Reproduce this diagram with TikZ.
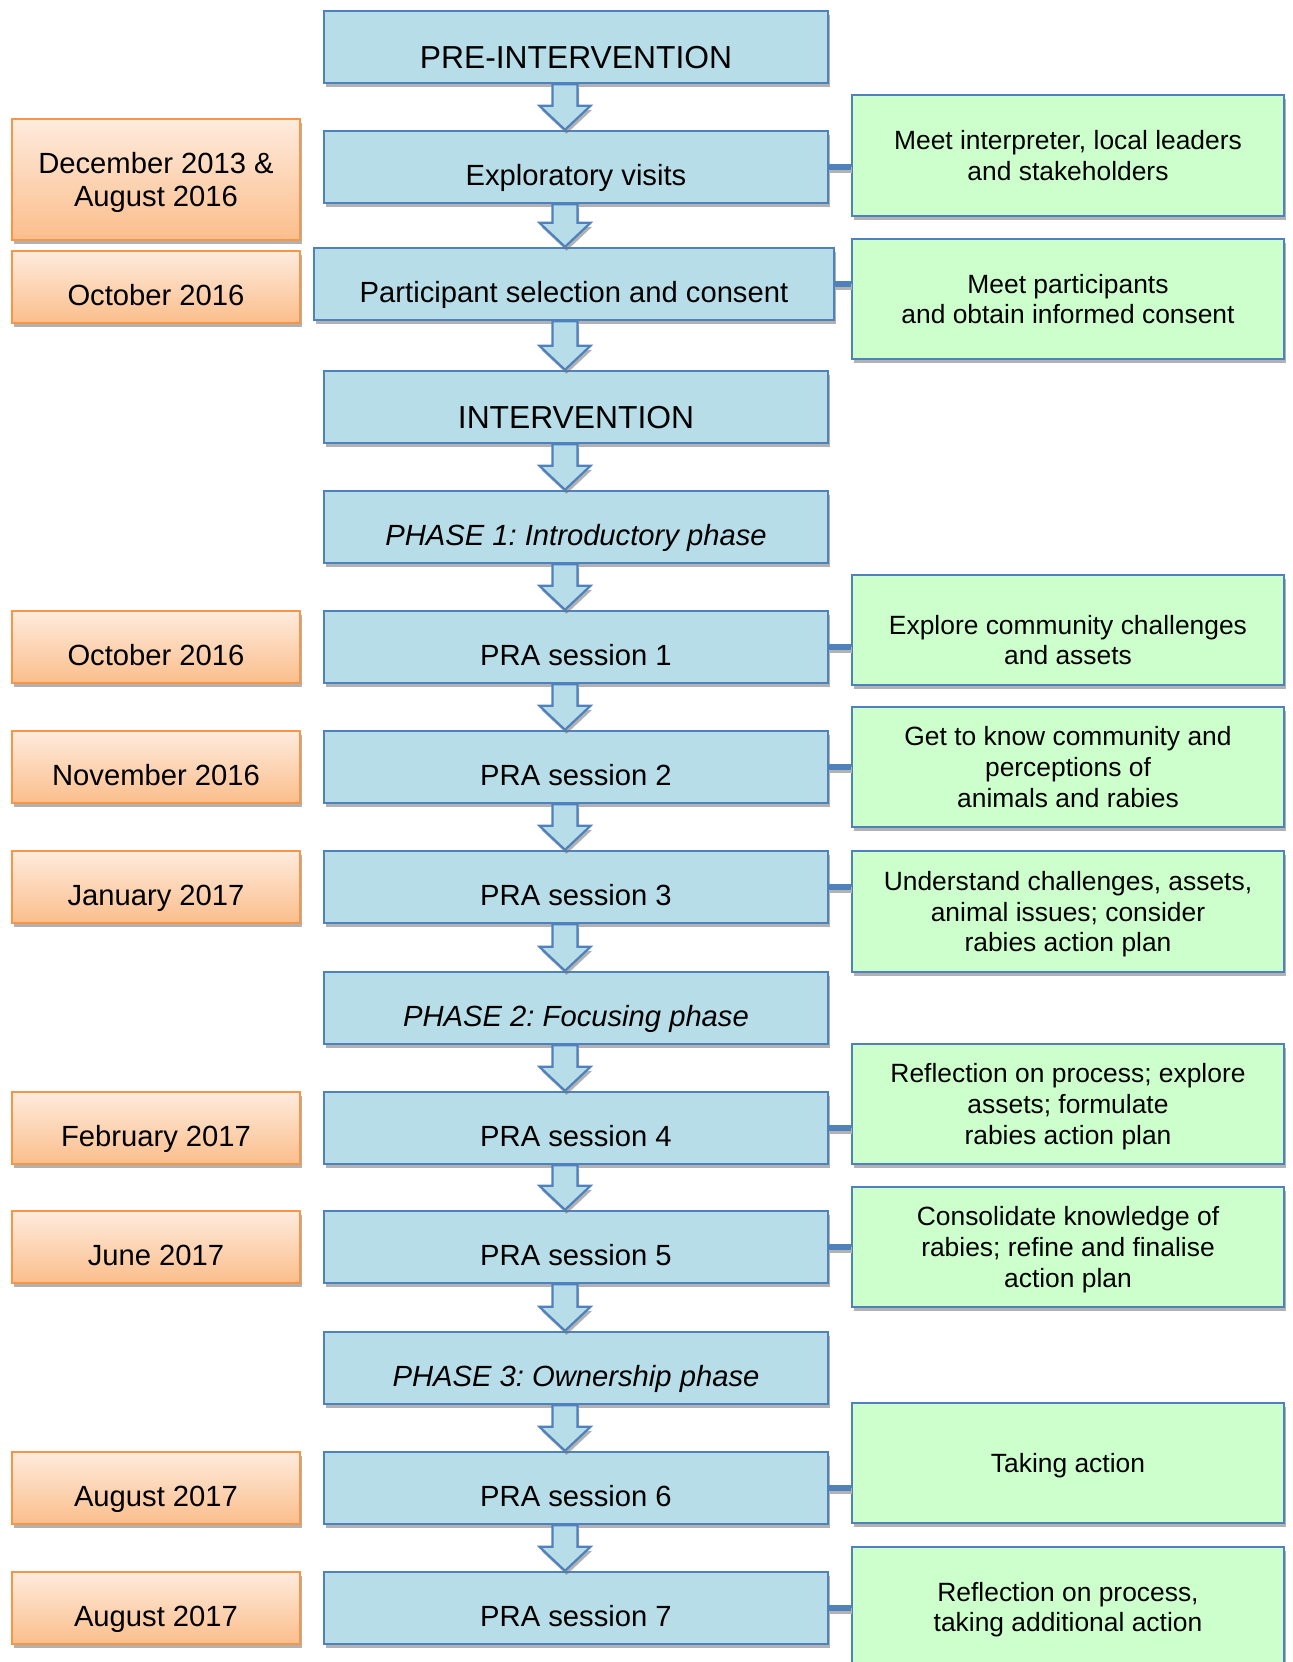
\documentclass[tikz,border=0pt]{standalone}
\usepackage{fontspec}
\setmainfont{Liberation Sans}
\usetikzlibrary{shadows,calc}
\frenchspacing
\definecolor{bfill}{HTML}{B7DDE8}
\definecolor{bline}{HTML}{4F81BD}
\definecolor{gfill}{HTML}{CCFFCC}
\definecolor{otop}{HTML}{FEEBDD}
\definecolor{obot}{HTML}{FBBE8C}
\definecolor{oline}{HTML}{F79646}
\tikzset{
 shad/.style={drop shadow={shadow xshift=0.8pt, shadow yshift=-2pt, opacity=0.55, fill=black!55}},
 bluebox/.style={shad, draw=bline, fill=bfill, line width=1.2pt, minimum width=252pt, minimum height=36pt, inner sep=0pt, font=\fontsize{14.6}{17}\selectfont, text height=18.2pt, text depth=0pt},
 headbox/.style={bluebox, font=\fontsize{15.9}{18}\selectfont, text height=21.9pt},
 phasebox/.style={bluebox, font=\fontsize{14.6}{17}\selectfont\itshape},
 dateboxbase/.style={shad, draw=oline, top color=otop, bottom color=obot, line width=1.2pt, minimum width=144pt, minimum height=36pt, inner sep=0pt, font=\fontsize{14.6}{16.4}\selectfont},
 datebox/.style={dateboxbase, text height=18.2pt, text depth=0pt},
 notebox/.style={shad, draw=bline, fill=gfill, line width=1.2pt, minimum width=216pt, minimum height=60pt, inner sep=0pt, align=center, text depth=0pt, font=\fontsize{13.2}{15.35}\selectfont},
 notetext/.style={align=center, inner sep=0pt, font=\fontsize{13.2}{15.35}\selectfont},
 conn/.style={draw=bline, line width=3pt, preaction={draw=black!30, line width=3pt, transform canvas={shift={(0.6pt,-1.6pt)}}}},
 flowarr/.style={shad, draw=bline, fill=bfill, line width=1.1pt, line join=miter},
}
\newcommand\flowarrow[2]{%
 \path[flowarr] ($(#1.south -| ax)+(-12.5,0)$) -- ($(#2.north -| ax)+(-12.5,-24)$) -- ($(#2.north -| ax)+(-25.5,-24)$) -- (#2.north -| ax) -- ($(#2.north -| ax)+(25.5,-24)$) -- ($(#2.north -| ax)+(12.5,-24)$) -- ($(#1.south -| ax)+(12.5,0)$) -- cycle;}
\begin{document}
\begin{tikzpicture}[x=0.5pt, y=-0.5pt]
\useasboundingbox (0,0) rectangle (1293,1662);
\clip (0,0) rectangle (1293,1662);
\coordinate (ax) at (565,0);
% central column
\node[headbox] (pre) at (576,47) {PRE-INTERVENTION};
\node[bluebox] (expl) at (576,167) {Exploratory visits};
\node[bluebox, minimum width=260pt] (part) at (574,284) {Participant selection and consent};
\node[headbox] (int) at (576,407) {INTERVENTION};
\node[phasebox] (ph1) at (576,527) {PHASE 1: Introductory phase};
\node[bluebox] (pra1) at (576,647) {PRA session 1};
\node[bluebox] (pra2) at (576,767) {PRA session 2};
\node[bluebox] (pra3) at (576,887) {PRA session 3};
\node[phasebox] (ph2) at (576,1008) {PHASE 2: Focusing phase};
\node[bluebox] (pra4) at (576,1128) {PRA session 4};
\node[bluebox] (pra5) at (576,1247) {PRA session 5};
\node[phasebox] (ph3) at (576,1368) {PHASE 3: Ownership phase};
\node[bluebox] (pra6) at (576,1488) {PRA session 6};
\node[bluebox] (pra7) at (576,1608) {PRA session 7};
% dates
\node[dateboxbase, minimum height=60.5pt, align=center, text depth=-1pt] (d0) at (156,179.5) {December 2013 \&\\August 2016};
\node[datebox] (d1) at (156,287) {October 2016};
\node[datebox] (d2) at (156,647) {October 2016};
\node[datebox] (d3) at (156,767) {November 2016};
\node[datebox] (d4) at (156,887) {January 2017};
\node[datebox] (d5) at (156,1128) {February 2017};
\node[datebox] (d6) at (156,1247) {June 2017};
\node[datebox] (d7) at (156,1488) {August 2017};
\node[datebox] (d8) at (156,1608) {August 2017};
% notes
\node[notebox, minimum height=60.5pt] (g1) at (1068,155.5) {Meet interpreter, local leaders\\and stakeholders};
\node[notebox] (g2) at (1068,299) {Meet participants\\and obtain informed consent};
\node[notebox, minimum height=55pt] (g3) at (1068,630) {};
\node[notetext] (g3t) at (1068,640) {Explore community challenges\\and assets};
\node[notebox] (g4) at (1068,767) {Get to know community and\\perceptions of\\animals and rabies};
\node[notebox, minimum height=60.5pt] (g5) at (1068,911.5) {Understand challenges, assets,\\animal issues; consider\\rabies action plan};
\node[notebox] (g6) at (1068,1104) {Reflection on process; explore\\assets; formulate\\rabies action plan};
\node[notebox] (g7) at (1068,1247) {Consolidate knowledge of\\rabies; refine and finalise\\action plan};
\node[notebox] (g8) at (1068,1463) {Taking action};
\node[notebox] (g9) at (1068,1607) {Reflection on process,\\taking additional action};
% connectors
\draw[conn] (expl.east) -- (g1.west |- expl.east);
\draw[conn] (part.east) -- (g2.west |- part.east);
\draw[conn] (pra1.east) -- (g3.west |- pra1.east);
\draw[conn] (pra2.east) -- (g4.west |- pra2.east);
\draw[conn] (pra3.east) -- (g5.west |- pra3.east);
\draw[conn] (pra4.east) -- (g6.west |- pra4.east);
\draw[conn] (pra5.east) -- (g7.west |- pra5.east);
\draw[conn] (pra6.east) -- (g8.west |- pra6.east);
\draw[conn] (pra7.east) -- (g9.west |- pra7.east);
% block arrows
\flowarrow{pre}{expl}
\flowarrow{expl}{part}
\flowarrow{part}{int}
\flowarrow{int}{ph1}
\flowarrow{ph1}{pra1}
\flowarrow{pra1}{pra2}
\flowarrow{pra2}{pra3}
\flowarrow{pra3}{ph2}
\flowarrow{ph2}{pra4}
\flowarrow{pra4}{pra5}
\flowarrow{pra5}{ph3}
\flowarrow{ph3}{pra6}
\flowarrow{pra6}{pra7}
\end{tikzpicture}
\end{document}
